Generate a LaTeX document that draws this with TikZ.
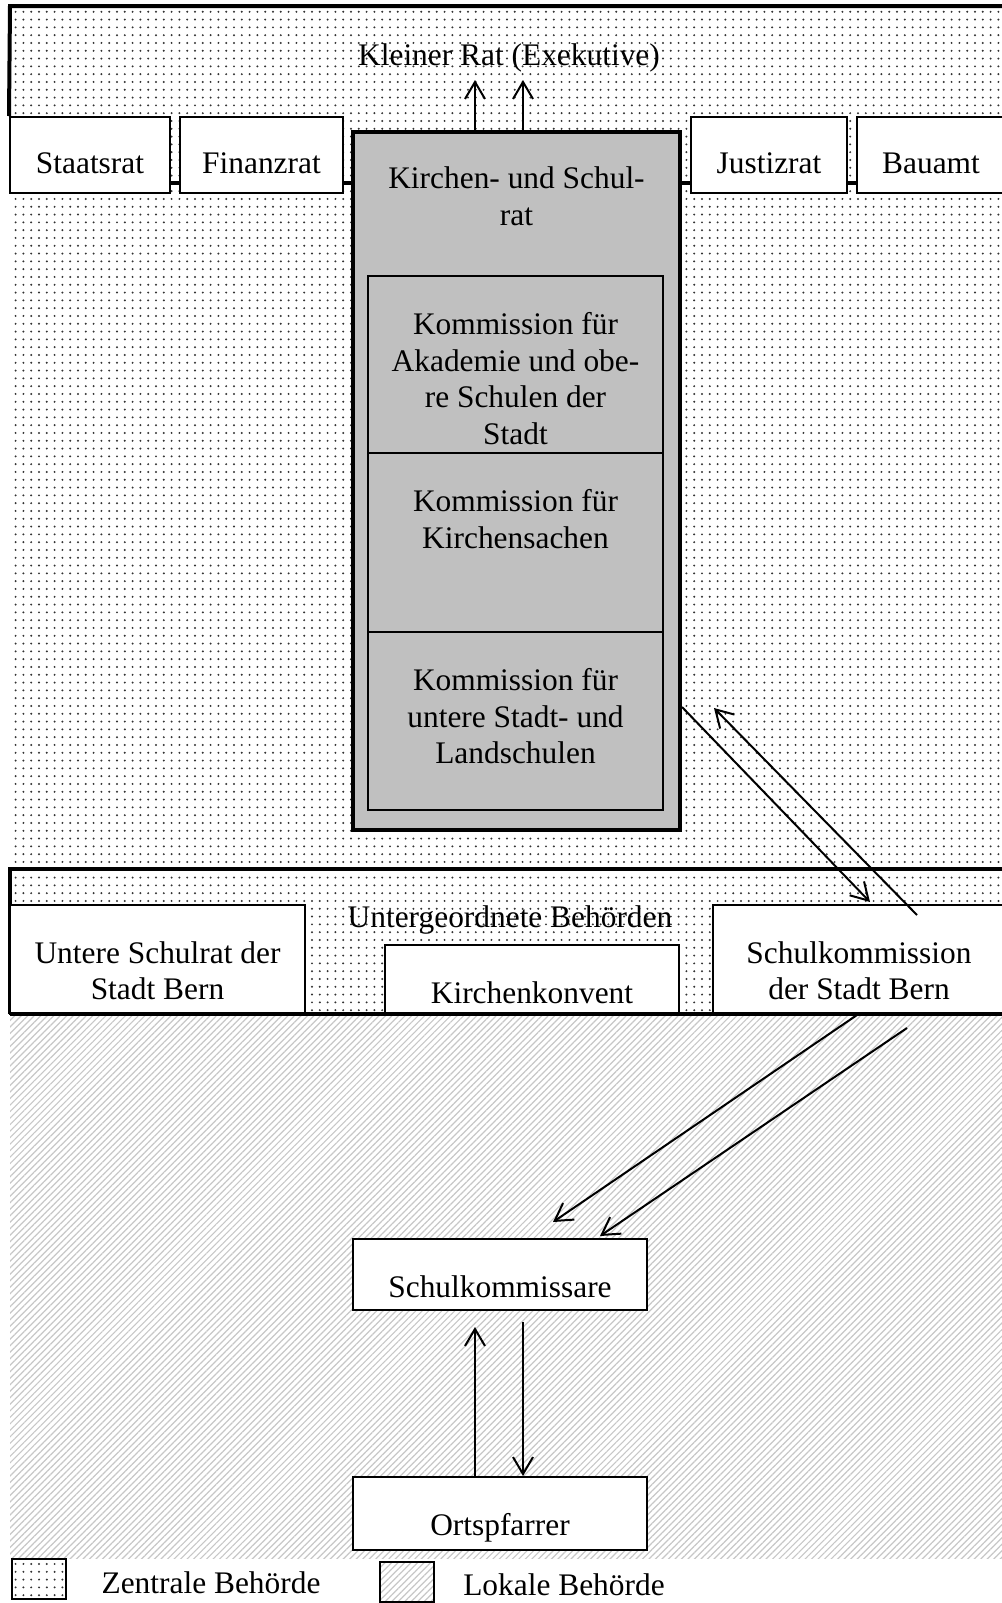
\documentclass[tikz,border=0pt]{standalone}
\usepackage{fontspec}
\setmainfont{Liberation Serif}
\usetikzlibrary{arrows.meta,patterns.meta}
\definecolor{ratgrau}{RGB}{192,192,192}

\begin{document}
\begin{tikzpicture}[x=0.5pt, y=-0.5pt,
    every node/.style={font=\fontsize{15.7}{18.4}\selectfont},
    amt/.style={draw, fill=white, line width=1pt, inner sep=0pt},
    kommission/.style={amt, fill=ratgrau},
    txt/.style={anchor=north, yshift=-18.4pt, align=center, inner sep=0pt},
    rahmen/.style={line width=2pt},
    verbind/.style={line width=2pt},
    pfeil/.style={line width=1pt, -{Straight Barb[length=8.5pt,width=10pt]}},
    zentral/.style={pattern={Dots[radius=0.55pt,distance=3.9pt]}, pattern color=black!80},
    lokal/.style={pattern={Lines[angle=45,distance=2.3pt,line width=0.6pt]}, pattern color=black!22}]
        \useasboundingbox (0,0) rectangle (1002,1603);

        % Flaechen
        \fill[zentral] (10,6) rectangle (1002,1014);
        \fill[lokal] (10,1014) rectangle (1002,1558);

        % Kleiner Rat
        \node[anchor=base] (kleinerrat) at (509,65) {Kleiner Rat (Exekutive)};
        \node[amt, minimum width=80pt, minimum height=38pt, label={[txt]north:Staatsrat}] (staatsrat) at (90,155) {};
        \node[amt, minimum width=81.5pt, minimum height=38pt, label={[txt]north:Finanzrat}] (finanzrat) at (261.5,155) {};
        \node[amt, minimum width=78pt, minimum height=38pt, label={[txt]north:Justizrat}] (justizrat) at (769,155) {};
        \node[amt, minimum width=74pt, minimum height=38pt, label={[txt]north:Bauamt}] (bauamt) at (931,155) {};
        \draw[rahmen] (staatsrat.north west) -- (10,6) -- (1002,6);

        % Kirchen- und Schulrat mit Kommissionen
        \node[kommission, line width=2pt, minimum width=163.5pt, minimum height=349pt,
              label={[txt]north:Kirchen- und Schul-\\rat}] (ksr) at (516.5,481) {};
        \node[kommission, minimum width=147.5pt, minimum height=88.5pt,
              label={[txt]north:Kommission für\\Akademie und obe-\\re Schulen der\\Stadt}] (kom1) at (515.5,364.5) {};
        \node[kommission, minimum width=147.5pt, minimum height=89.5pt,
              label={[txt]north:Kommission für\\Kirchensachen}] (kom2) at (515.5,542.5) {};
        \node[kommission, minimum width=147.5pt, minimum height=89pt,
              label={[txt]north:Kommission für\\untere Stadt- und\\Landschulen}] (kom3) at (515.5,721) {};

        % Verbindungen oben
        \coordinate (ebene) at (0,183);
        \draw[verbind] (staatsrat.east |- ebene) -- (finanzrat.west |- ebene);
        \draw[verbind] (finanzrat.east |- ebene) -- (ksr.west |- ebene);
        \draw[verbind] (ksr.east |- ebene) -- (justizrat.west |- ebene);
        \draw[verbind] (justizrat.east |- ebene) -- (bauamt.west |- ebene);

        \coordinate (rat-l) at (475,80);
        \coordinate (rat-r) at (523,80);
        \draw[pfeil] (ksr.north -| rat-l) -- (rat-l);
        \draw[pfeil] (ksr.north -| rat-r) -- (rat-r);

        % Untergeordnete Behoerden
        \draw[rahmen] (10,1014) -- (10,869) -- (1002,869);
        \node[anchor=base] (unter) at (510,927) {Untergeordnete Behörden};
        \node[amt, minimum width=147.5pt, minimum height=54.5pt,
              label={[txt]north:Untere Schulrat der\\Stadt Bern}] (untere) at (157.5,959.5) {};
        \node[amt, minimum width=147pt, minimum height=34.5pt,
              label={[txt]north:Kirchenkonvent}] (konvent) at (532,979.5) {};
        \node[amt, minimum width=146pt, minimum height=54.5pt,
              label={[txt]north:Schulkommission\\der Stadt Bern}] (schulkom) at (859,959.5) {};
        \draw[rahmen] (10,1014) -- (1002,1014);

        % Lokale Behoerden
        \node[amt, minimum width=147pt, minimum height=35.5pt,
              label={[txt]north:Schulkommissare}] (kommissare) at (500,1274.5) {};
        \node[amt, minimum width=147pt, minimum height=36.5pt,
              label={[txt]north:Ortspfarrer}] (ortspf) at (500,1513.5) {};

        % Pfeile
        \coordinate (c-ab) at (0,707);
        \coordinate (c-an) at (870,902);
        \draw[pfeil] (ksr.east |- c-ab) -- (c-an);
        \coordinate (d-ab) at (917,915);
        \coordinate (d-an) at (714,708);
        \draw[pfeil] (d-ab) -- (d-an);
        \coordinate (a-ab) at (857,0);
        \coordinate (a-an) at (553,1222);
        \draw[pfeil] (schulkom.south -| a-ab) -- (a-an);
        \coordinate (b-ab) at (907,1028);
        \coordinate (b-an) at (600,1236);
        \draw[pfeil] (b-ab) -- (b-an);
        \coordinate (k-l) at (475,1327);
        \coordinate (k-r) at (523,1322);
        \draw[pfeil] (ortspf.north -| k-l) -- (k-l);
        \draw[pfeil] (k-r) -- (ortspf.north -| k-r);

        % Legende
        \node[draw, line width=1pt, zentral, minimum width=27pt, minimum height=20pt] (leg-z) at (39,1579) {};
        \node[anchor=base] (leg-zt) at (211,1593) {Zentrale Behörde};
        \node[draw, line width=1pt, lokal, minimum width=27pt, minimum height=20pt] (leg-l) at (407,1582) {};
        \node[anchor=base] (leg-lt) at (564,1595) {Lokale Behörde};
      \end{tikzpicture}
\end{document}
